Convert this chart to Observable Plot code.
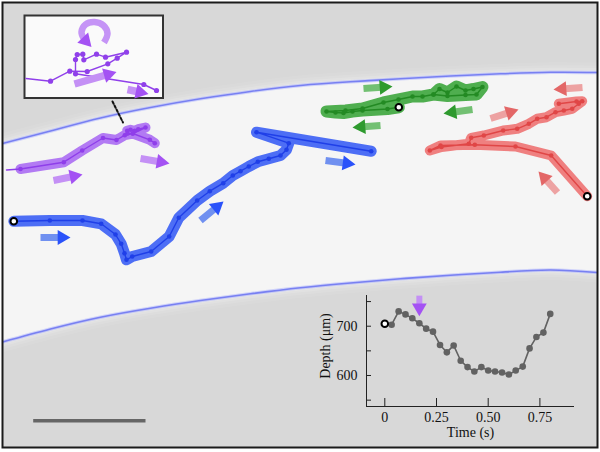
<!DOCTYPE html>
<html><head><meta charset="utf-8">
<script src="https://cdn.jsdelivr.net/npm/d3@7"></script>
<script src="https://cdn.jsdelivr.net/npm/@observablehq/plot@0.6"></script>
<style>
html,body{margin:0;padding:0;background:#fff;}
#wrap{position:relative;width:600px;height:452px;overflow:hidden;}
#wrap > svg{position:absolute;left:0;top:0;}
#wrap > svg.depth{left:300px;top:280px;}
</style></head><body><div id="wrap"></div>
<script>
// ---- vessel edges (pixel positions) ----
const edgeX   = [2, 50, 100, 150, 200, 250, 300, 350, 400, 450, 500, 550, 597];
const topY    = [143, 130.5, 117.5, 107, 98.3, 91, 85, 81.3, 78.3, 75.5, 73.3, 71.8, 72];
const bottomY = [341.5, 328.5, 316.7, 307.7, 300, 293.3, 287.3, 282.5, 278.3, 274.7, 271.7, 269.5, 272];

// ---- trajectories ----
const bluePath = [[13.3,220.7],[49.3,220],[82,220],[100.7,223.3],[115,234],[120.7,243.3],[124,252.7],[126,259.3],[131.7,256],[150.7,251],[168.7,236],[178.3,217.3],[196.7,200],[209.3,190.7],[222.7,182.7],[232.3,175],[240,170.7],[248.3,166],[257.3,161.3],[268.3,158.3],[280,155],[286,149.3],[288.3,142.7],[256,131.7],[370.7,150.7]];
const purplePath = [[6,169.5],[20,168.5],[63.3,161.7],[81.7,150],[102.5,137.5],[116,139.5],[124.3,134.7],[132.3,133],[145,127],[137.7,128.7],[134.3,130.3],[130,129.3],[126.7,130.3],[127,133],[132.3,133],[149.3,139.3],[154.3,142.7]];
const greenPath = [[398.3,106.7],[387,108.5],[362,110],[352,111],[343,112.5],[335,112],[326,111],[345,110],[362,108],[383,102],[398,99],[412,96],[422,96],[433,94],[439,88.5],[447,92],[456,86],[465,90],[473,88.5],[482,86.5],[476,94],[465,94.5],[447,95.5],[433,94]];
const redPath = [[586.7,195.7],[550.7,155],[515,146],[474.3,144.3],[440,145],[429.3,150],[441,146.5],[468.3,143.3],[470.7,137.3],[483.3,135],[502.7,130],[516.7,128.3],[528.3,123.3],[536.7,118.3],[546,116.7],[555,111.7],[563.3,110],[571.7,108.3],[578.3,103.3],[581.7,100.7],[576,101],[558.3,103.3]];
const startPoints = [[13.3,220.7],[398.3,106.7],[586.7,195.7]];

// ---- direction arrows [x tail, y tail, x tip, y tip] ----
const blueArrows   = [[40,237,70,237],[200,220,223,201],[325,160,355,164]];
const purpleArrows = [[53,180,82,174],[140,158,169,163]];
const greenArrows  = [[363,88,392,86],[472,109,443,113],[380,125,352,127]];
const redArrows    = [[582,87,553,89],[490,118,518,109],[557,192,538,171]];

// ---- magnified inset ----
const insetBox = [{x1: 24.5, y1: 15.5, x2: 163, y2: 98}];
const insetPath = [[25.5,78],[50,80.7],[69.3,70.7],[86.7,71],[107.3,63.3],[116.7,57.7],[126,51.7],[105,56.7],[96,53.7],[83.3,59.3],[82.3,53.7],[76.7,54],[75,59],[75,73.3],[143.3,84],[156,90]];
const insetArrows = [[74,83.5,116,71.5],[127,89,148,93.5]];
const insetLoop = [[103.5,42],[107,33],[103,25],[94,21.5],[85,24],[81,31.5],[83.5,38.5]];
const insetLoopTip = [[83.5,38.5,91,46.5]];
const connector = [[112,101],[122.5,122]];
const scaleBar = [{x1: 32.7, x2: 145, y: 420.3}];

// ---- depth vs time inset ----
const depthT = [0.033,0.067,0.1,0.133,0.167,0.2,0.233,0.267,0.3,0.333,0.367,0.4,0.433,0.467,0.5,0.533,0.567,0.6,0.633,0.667,0.7,0.733,0.767,0.8];
const depthV = [703,730,724,716,706,695,689,662,647,661,630,617,608,617,610,608,606,602,610,618,655,678,687,725];
const depthStart = [{t: 0, v: 705}];
const depthMarker = [{t: 0.167, tail: 762, end: 742, tip: 720}];
const xTicks = [0, 0.25, 0.5, 0.75];
const yTicksLabeled = [600, 700];
const yTicksAll = [550, 600, 650, 700, 750];

const R = 5.5, K = R * Math.sqrt(Math.PI / (3 * Math.sqrt(3)));
function arrowMarks(arr, body, head, w = 7, r = R) {
  const k = r * Math.sqrt(Math.PI / (3 * Math.sqrt(3)));
  const rows = arr.map(([x1, y1, x2, y2]) => {
    const L = Math.hypot(x2 - x1, y2 - y1), ux = (x2 - x1) / L, uy = (y2 - y1) / L;
    return {x1, y1, bx: x2 - ux * k * 1.7, by: y2 - uy * k * 1.7,
            hx: x2 - ux * 2 * k, hy: y2 - uy * 2 * k, rot: Math.atan2(ux, -uy) * 180 / Math.PI};
  });
  return [
    Plot.link(rows, {x1: "x1", y1: "y1", x2: "bx", y2: "by", stroke: body, strokeWidth: w, strokeLinecap: "butt"}),
    Plot.dot(rows, {x: "hx", y: "hy", symbol: "triangle", r, rotate: "rot", fill: head})
  ];
}
function traj(path, halo, line, hw, skipFirstHalo) {
  const px = d => d[0], py = d => d[1];
  return [
    Plot.line(skipFirstHalo ? path.slice(1) : path, {x: px, y: py, stroke: halo, strokeWidth: hw, strokeLinejoin: "round", strokeLinecap: "round"}),
    Plot.line(path, {x: px, y: py, stroke: line, strokeWidth: 1.4}),
    Plot.dot(path.slice(1), {x: px, y: py, r: 2.3, fill: line})
  ];
}
function glow(key) {
  return [[20, 0.07], [14, 0.1], [9, 0.14], [5, 0.2]].map(([w, o]) =>
    Plot.line(edges, {x: "x", y: key, stroke: "#ffffff", strokeWidth: w, strokeOpacity: o, curve: "natural", clip: "frame"}));
}

const edges = edgeX.map((x, i) => ({x, top: topY[i], bottom: bottomY[i]}));
const P = d => d[0], Q = d => d[1];

const main = Plot.plot({
  width: 600, height: 452,
  marginLeft: 2, marginRight: 3, marginTop: 2, marginBottom: 5,
  x: {domain: [2, 597], axis: null},
  y: {domain: [447, 2], axis: null},
  style: {background: "transparent", overflow: "visible"},
  marks: [
    Plot.frame({fill: "#d8d8d8", stroke: null}),
    ...glow("top"),
    ...glow("bottom"),
    Plot.areaY(edges, {x: "x", y1: "top", y2: "bottom", fill: "#f5f5f5", curve: "natural", clip: "frame"}),
    Plot.line(edges, {x: "x", y: "top", stroke: "#a9b0ff", strokeWidth: 3.5, strokeOpacity: 0.5, curve: "natural", clip: "frame"}),
    Plot.line(edges, {x: "x", y: "bottom", stroke: "#a9b0ff", strokeWidth: 3.5, strokeOpacity: 0.5, curve: "natural", clip: "frame"}),
    Plot.line(edges, {x: "x", y: "top", stroke: "#7880f2", strokeWidth: 1.6, curve: "natural", clip: "frame"}),
    Plot.line(edges, {x: "x", y: "bottom", stroke: "#7880f2", strokeWidth: 1.6, curve: "natural", clip: "frame"}),

    ...traj(bluePath, "#4d6ef5", "#1f3fe8", 11, false),
    ...traj(purplePath, "#b27af3", "#8f3eea", 10, true),
    ...traj(greenPath, "#4fae4f", "#238a23", 12, false),
    ...traj(redPath, "#ef8080", "#e04646", 10, false),
    Plot.dot(startPoints, {x: P, y: Q, r: 3.3, fill: "white", stroke: "black", strokeWidth: 2}),

    ...arrowMarks(blueArrows, "#7090f0", "#2a52fa"),
    ...arrowMarks(purpleArrows, "#c490f5", "#a452f3"),
    ...arrowMarks(greenArrows, "#72c072", "#2e9a2e"),
    ...arrowMarks(redArrows, "#eda2a2", "#e36767"),

    // magnified inset
    Plot.rect(insetBox, {x1: "x1", y1: "y1", x2: "x2", y2: "y2", fill: "#fafafa", stroke: "#333", strokeWidth: 2}),
    Plot.line(insetLoop, {x: P, y: Q, stroke: "#c594f6", strokeWidth: 6.5, curve: "catmull-rom", strokeLinecap: "butt"}),
    ...arrowMarks(insetLoopTip, "none", "#a452f3", 0, 5.5),
    Plot.line(insetPath, {x: P, y: Q, stroke: "#9040ea", strokeWidth: 1.4}),
    Plot.dot(insetPath.slice(1), {x: P, y: Q, r: 2.6, fill: "#9040ea"}),
    ...arrowMarks(insetArrows, "#c490f5", "#a452f3", 7.5),
    Plot.line(connector, {x: P, y: Q, stroke: "#111", strokeWidth: 2, strokeDasharray: "2.5,2"}),

    Plot.link(scaleBar, {x1: "x1", x2: "x2", y1: "y", y2: "y", stroke: "#666", strokeWidth: 3.5, strokeLinecap: "butt"}),
    Plot.frame({stroke: "#1a1a1a", strokeWidth: 2})
  ]
});
document.getElementById("wrap").appendChild(main);

const depthRows = depthT.map((t, i) => ({t, v: depthV[i]}));
const xDom = [-0.0885, 0.9173], yDom = [537.1, 762.3];
const depth = Plot.plot({
  className: "depth",
  width: 290, height: 166,
  marginLeft: 66, marginRight: 16, marginTop: 15, marginBottom: 40,
  x: {domain: xDom, axis: null},
  y: {domain: yDom, axis: null},
  style: {background: "transparent", fontFamily: "'Liberation Serif', serif", fontSize: "14px", color: "#111", overflow: "visible"},
  marks: [
    Plot.ruleX(xTicks, {x: d => d, insetTop: 103, stroke: "#222"}),
    Plot.ruleY(yTicksAll, {y: d => d, insetRight: 203, stroke: "#222"}),
    Plot.ruleX([xDom[0]], {stroke: "#222"}),
    Plot.ruleY([yDom[0]], {stroke: "#222"}),
    Plot.axisX(xTicks, {tickSize: 0, tickPadding: 6, fontSize: 14, label: null, tickFormat: d => d === 0 ? "0" : d.toFixed(2)}),
    Plot.axisY(yTicksLabeled, {tickSize: 0, tickPadding: 9, fontSize: 14, label: null}),
    Plot.text(["Time (s)"], {frameAnchor: "bottom", dy: 30, fontSize: 14}),
    Plot.text(["Depth (μm)"], {frameAnchor: "left", dx: -41, dy: -5, rotate: -90, textAnchor: "middle", fontSize: 14}),
    Plot.line(depthRows, {x: "t", y: "v", stroke: "#626262", strokeWidth: 1.6}),
    Plot.dot(depthRows, {x: "t", y: "v", r: 3.3, fill: "#626262"}),
    Plot.dot(depthStart, {x: "t", y: "v", r: 3.3, fill: "white", stroke: "black", strokeWidth: 2}),
    Plot.link(depthMarker, {x1: "t", x2: "t", y1: "tail", y2: "end", stroke: "#c490f5", strokeWidth: 6, strokeLinecap: "butt"}),
    Plot.dot(depthMarker, {x: "t", y: "tip", dy: -2 * K, symbol: "triangle", r: R, rotate: 180, fill: "#a452f3"})
  ]
});
document.getElementById("wrap").appendChild(depth);
</script></body></html>
